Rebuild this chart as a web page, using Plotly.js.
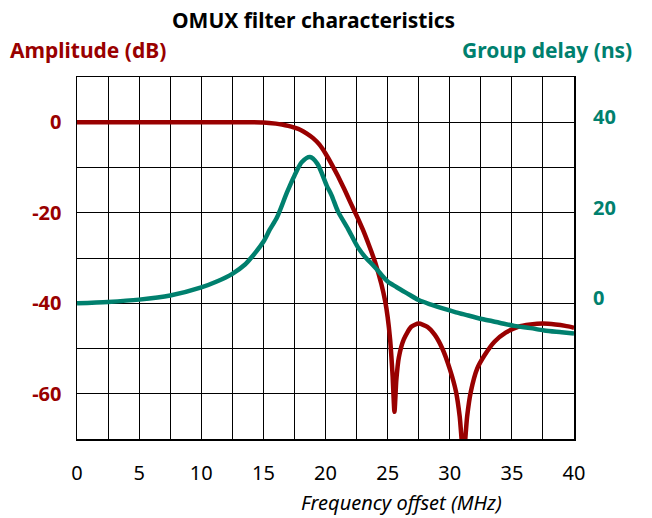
<!DOCTYPE html>
<html>
<head>
<meta charset="utf-8">
<script src="https://cdn.plot.ly/plotly-3.0.1.min.js"></script>
<style>
  html, body { margin: 0; padding: 0; background: #fff; }
  #chart { width: 652px; height: 518px; }
</style>
</head>
<body>
<div id="chart"></div>
<script>
// Frequency offset (MHz) and amplitude response (dB)
const ampFreq = [0, 5, 10, 14, 15, 16, 16.5, 17, 17.5, 18, 18.5, 19, 19.5, 20, 20.5, 21, 21.5, 22, 22.5, 23, 23.5, 24, 24.5, 24.8, 25, 25.2, 25.4, 25.55, 25.7, 25.9, 26.3, 26.9, 27.5, 28.2, 28.8, 29.4, 30, 30.5, 30.8, 31.1, 31.4, 31.7, 32.2, 32.8, 33.6, 34.5, 35.5, 36.5, 37.5, 38.5, 39.3, 40];
const ampDb = [0, 0, 0, 0, -0.05, -0.3, -0.5, -0.8, -1.2, -1.7, -2.5, -3.5, -4.9, -6.9, -9.3, -11.9, -14.7, -17.7, -20.6, -23.7, -27.2, -31, -35.8, -39.5, -43, -48, -56, -64, -57, -52, -48, -45.2, -44.5, -45.2, -47, -50, -54.5, -59.5, -65, -74, -65, -59.5, -54.5, -51.5, -48.5, -46.5, -45.2, -44.7, -44.5, -44.7, -45, -45.4];

// Frequency offset (MHz) and group delay (ns)
const gdFreq = [0, 2.5, 5, 7.5, 10, 11.25, 12.5, 13.5, 14, 15, 15.5, 16.1, 16.9, 17.5, 18.1, 18.75, 19.35, 20.1, 20.5, 21, 21.8, 22.6, 23.2, 23.9, 24.5, 25, 25.7, 26.5, 27.5, 28.5, 29.5, 30.5, 31.5, 32.7, 34, 35.2, 36.5, 37.6, 39, 40];
const gdNs = [0, 0.3, 0.8, 1.7, 3.5, 4.8, 6.5, 8.5, 10, 13.6, 16.2, 19, 24.5, 28.2, 31.2, 32.3, 30.8, 26, 23.8, 20.3, 16.5, 12.4, 10.2, 8.2, 6.3, 4.8, 3.6, 2.3, 0.7, -0.3, -1.2, -2.0, -2.7, -3.55, -4.3, -5.0, -5.5, -6.0, -6.4, -6.7];

// Tick positions and labels
const xTickVals = [0, 2.5, 5, 7.5, 10, 12.5, 15, 17.5, 20, 22.5, 25, 27.5, 30, 32.5, 35, 37.5, 40];
const xTickText = ['0', '', '5', '', '10', '', '15', '', '20', '', '25', '', '30', '', '35', '', '40'];
const ampTickVals = [-70, -60, -50, -40, -30, -20, -10, 0, 10];
const ampTickText = ['', '-60', '', '-40', '', '-20', '', '0', ''];
const gdTickVals = [0, 20, 40];
const gdTickText = ['0', '20', '40'];

const RED = '#990000';
const TEAL = '#00806e';
const FONT = 'Noto Sans, Open Sans, sans-serif';

const traces = [
  {
    x: ampFreq, y: ampDb, type: 'scatter', mode: 'lines', yaxis: 'y',
    line: { color: RED, width: 4.5, shape: 'spline', smoothing: 0.6 },
    hoverinfo: 'skip'
  },
  {
    x: gdFreq, y: gdNs, type: 'scatter', mode: 'lines', yaxis: 'y2',
    line: { color: TEAL, width: 4.5, shape: 'spline', smoothing: 0.8 },
    hoverinfo: 'skip'
  }
];

const layout = {
  width: 652, height: 518,
  margin: { l: 77, r: 78, t: 77, b: 79, pad: 0 },
  paper_bgcolor: '#ffffff', plot_bgcolor: '#ffffff',
  showlegend: false,
  font: { family: FONT, color: '#000' },
  xaxis: {
    range: [0, 40], tickmode: 'array', tickvals: xTickVals, ticktext: xTickText,
    showgrid: true, gridcolor: '#000', gridwidth: 1, zeroline: false,
    showline: true, linecolor: '#000', linewidth: 1.5, mirror: true,
    ticks: 'outside', ticklen: 15, tickcolor: 'rgba(0,0,0,0)',
    tickfont: { size: 20, color: '#000', family: FONT }
  },
  yaxis: {
    range: [-70, 10], tickmode: 'array', tickvals: ampTickVals, ticktext: ampTickText,
    showgrid: true, gridcolor: '#000', gridwidth: 1, zeroline: false,
    showline: true, linecolor: '#000', linewidth: 1.5, mirror: true,
    ticks: 'outside', ticklen: 10, tickcolor: 'rgba(0,0,0,0)',
    tickfont: { size: 20, color: RED, family: FONT, weight: 'bold' }
  },
  yaxis2: {
    range: [-30, 50], overlaying: 'y', side: 'right',
    tickmode: 'array', tickvals: gdTickVals, ticktext: gdTickText,
    showgrid: false, zeroline: false, showline: false,
    ticks: 'outside', ticklen: 14, tickcolor: 'rgba(0,0,0,0)',
    ticklabelshift: -5,
    tickfont: { size: 20, color: TEAL, family: FONT, weight: 'bold' }
  },
  annotations: [
    {
      text: 'OMUX filter characteristics', xref: 'paper', yref: 'paper',
      x: 0.475, y: 1.158, xanchor: 'center', yanchor: 'middle', showarrow: false,
      font: { size: 21, color: '#000', family: FONT, weight: 'bold' }
    },
    {
      text: 'Amplitude (dB)', xref: 'paper', yref: 'paper',
      x: -0.139, y: 1.075, xanchor: 'left', yanchor: 'middle', showarrow: false,
      font: { size: 21, color: RED, family: FONT, weight: 'bold' }
    },
    {
      text: 'Group delay (ns)', xref: 'paper', yref: 'paper',
      x: 1.12, y: 1.075, xanchor: 'right', yanchor: 'middle', showarrow: false,
      font: { size: 21, color: TEAL, family: FONT, weight: 'bold' }
    },
    {
      text: 'Frequency offset (MHz)', xref: 'paper', yref: 'paper',
      x: 0.652, y: -0.176, xanchor: 'center', yanchor: 'middle', showarrow: false,
      font: { size: 20, color: '#000', family: FONT, style: 'italic' }
    }
  ]
};

Plotly.newPlot('chart', traces, layout, { displayModeBar: false, staticPlot: true });
</script>
</body>
</html>
